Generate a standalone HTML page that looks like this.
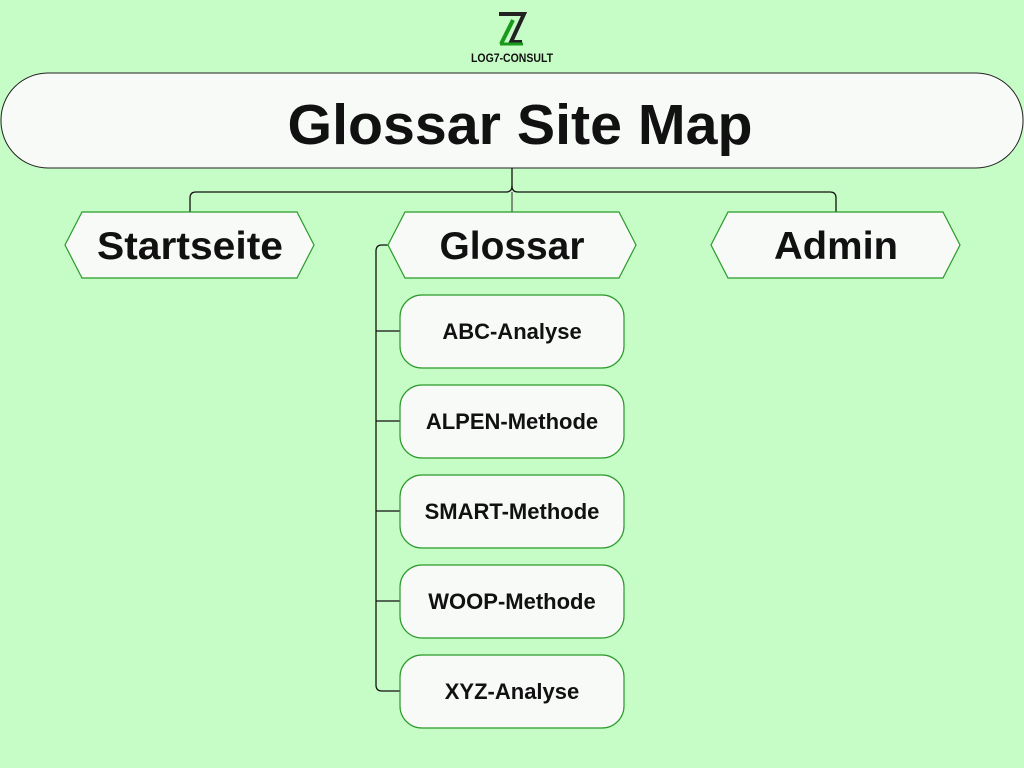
<!DOCTYPE html>
<html><head><meta charset="utf-8"><style>
body{margin:0;background:#c6fcc6;}
svg{display:block}
text{font-family:"Liberation Sans",sans-serif;font-weight:bold;fill:#111;text-anchor:middle}
</style></head><body>
<svg width="1024" height="768" viewBox="0 0 1024 768">
<rect width="1024" height="768" fill="#c6fcc6"/>
<!-- logo -->
<path d="M499 14 L524 14 L511 42 L522 42" fill="none" stroke="#222" stroke-width="4"/>
<path d="M501 44 L513 20" fill="none" stroke="#1a9a1a" stroke-width="4"/>
<path d="M500 44 L523 44" fill="none" stroke="#1a9a1a" stroke-width="3"/>
<text x="512" y="62" font-size="12" textLength="82" lengthAdjust="spacingAndGlyphs">LOG7-CONSULT</text>
<!-- connectors -->
<g fill="none" stroke="#111" stroke-width="1.3">
<path d="M512 168 V186 Q512 192 506 192 H196 Q190 192 190 198 V212"/>
<path d="M512 186 Q512 192 518 192 H830 Q836 192 836 198 V212"/>
<path d="M388 245 H382 Q376 245 376 251 V685 Q376 691 382 691 H400"/>
<path d="M376 331 H400 M376 421 H400 M376 511 H400 M376 601 H400"/>
</g>
<line x1="512" y1="192" x2="512" y2="212" stroke="#555" stroke-width="1.3"/>
<!-- title -->
<rect x="1" y="73" width="1022" height="95" rx="47" fill="#f7faf7" stroke="#222" stroke-width="1"/>
<text x="520" y="144" font-size="57" textLength="465" lengthAdjust="spacingAndGlyphs">Glossar Site Map</text>
<!-- hexagons -->
<g fill="#f7faf7" stroke="#2a9a2a" stroke-width="1.2">
<polygon points="65,245 82,212 297,212 314,245 297,278 82,278"/>
<polygon points="388,245 405,212 619,212 636,245 619,278 405,278"/>
<polygon points="711,245 728,212 943,212 960,245 943,278 728,278"/>
</g>
<g font-size="39">
<text x="190" y="259" textLength="186" lengthAdjust="spacingAndGlyphs">Startseite</text>
<text x="512" y="259" textLength="145" lengthAdjust="spacingAndGlyphs">Glossar</text>
<text x="836" y="259" textLength="124" lengthAdjust="spacingAndGlyphs">Admin</text>
</g>
<!-- children -->
<g fill="#f7faf7" stroke="#2a9a2a" stroke-width="1.2">
<rect x="400" y="295" width="224" height="73" rx="22"/>
<rect x="400" y="385" width="224" height="73" rx="22"/>
<rect x="400" y="475" width="224" height="73" rx="22"/>
<rect x="400" y="565" width="224" height="73" rx="22"/>
<rect x="400" y="655" width="224" height="73" rx="22"/>
</g>
<g font-size="22">
<text x="512" y="339">ABC-Analyse</text>
<text x="512" y="429">ALPEN-Methode</text>
<text x="512" y="519">SMART-Methode</text>
<text x="512" y="609">WOOP-Methode</text>
<text x="512" y="699">XYZ-Analyse</text>
</g>
</svg>
</body></html>
